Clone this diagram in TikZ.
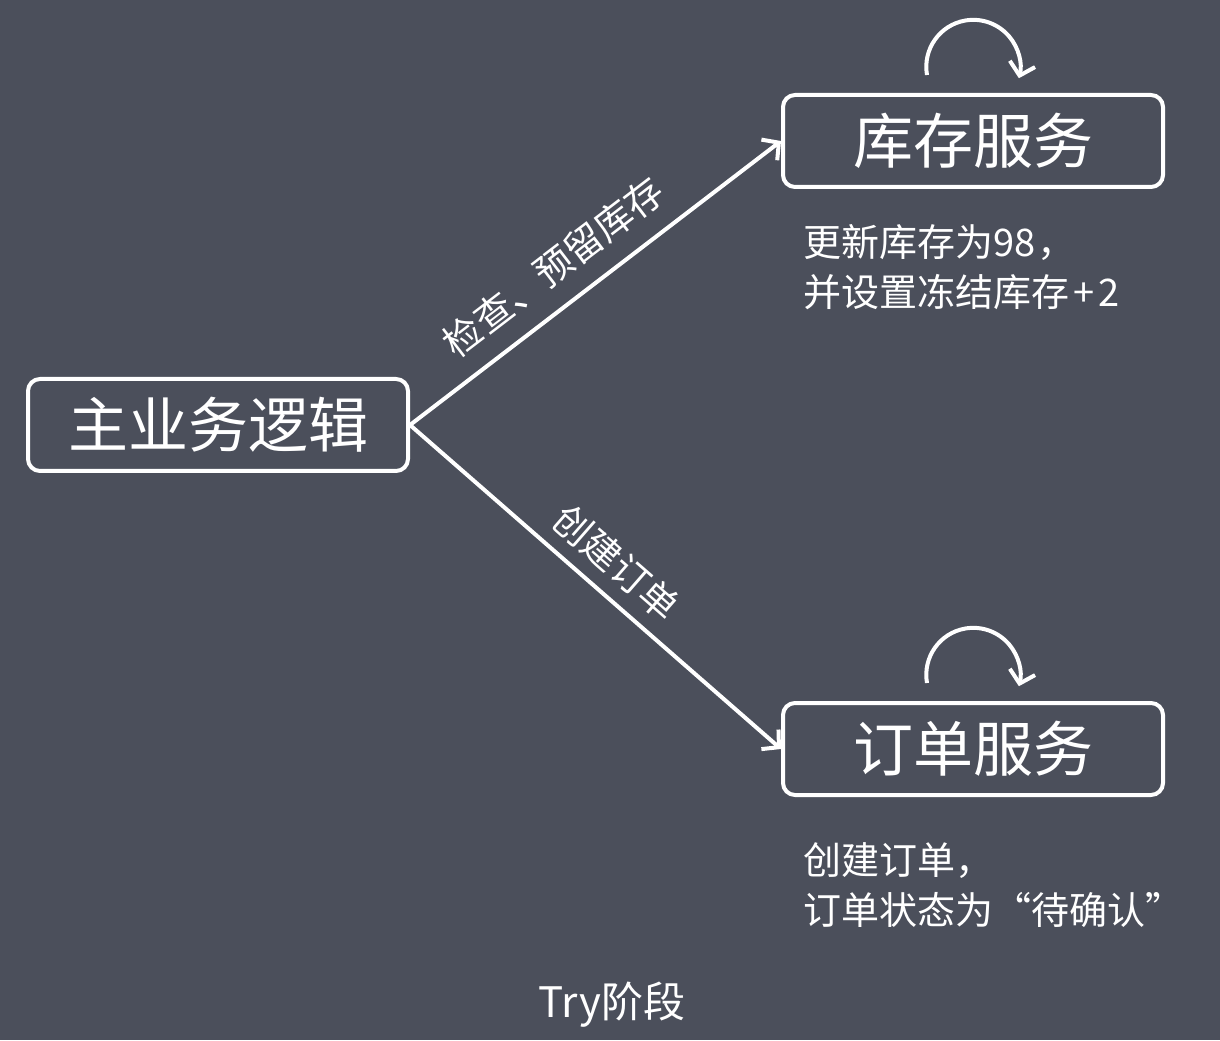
\documentclass[tikz,border=0pt]{standalone}
\usepackage{fontspec}
\setmainfont{Noto Sans CJK SC}
\usetikzlibrary{arrows.meta}
\definecolor{bgslate}{RGB}{75,79,91}
\begin{document}
\begin{tikzpicture}[x=0.5pt,y=0.5pt,
  svcbox/.style={draw=white,line width=2pt,rounded corners=6pt,minimum width=190pt,minimum height=46pt,text=white,font=\fontsize{30}{34}\selectfont},
  flow/.style={draw=white,line width=2pt,-{Straight Barb[length=6pt,width=13pt,line width=2pt]}},
  selfloop/.style={draw=white,line width=2pt,-{Straight Barb[length=6pt,width=13pt,line width=2pt]}},
  edgelabel/.style={text=white,font=\fontsize{19}{22}\selectfont},
  note/.style={text=white,align=left,anchor=north west,inner sep=0pt,font=\fontsize{19}{25}\selectfont}]
  \fill[bgslate] (0,0) rectangle (1220,1040);
  \useasboundingbox (0,0) rectangle (1220,1040);
  \node[svcbox] (main) at (218,615) {主业务逻辑};
  \node[svcbox] (stock) at (973,899) {库存服务};
  \node[svcbox] (order) at (973,291) {订单服务};
  \draw[flow] (main.east) -- node[edgelabel,sloped,above=6pt,pos=0.45] {检查、预留库存} (stock.west);
  \draw[flow] (main.east) -- node[edgelabel,sloped,above=3pt,pos=0.5] {创建订单} (order.west);
  \draw[selfloop] ([xshift=-23pt,yshift=9pt]stock.north) arc[start angle=190,end angle=-14,radius=23.5pt];
  \draw[selfloop] ([xshift=-23pt,yshift=9pt]order.north) arc[start angle=190,end angle=-14,radius=23.5pt];
  \node[note] (stocknote) at (803,816) {更新库存为98\kern1pt，\\并设置冻结库存\kern2pt+\kern2pt2};
  \node[note] (ordernote) at (803,198) {创建订单，\\订单状态为“待确认”};
  \node[text=white,font=\fontsize{21}{24}\selectfont] (phase) at (612,35) {Try阶段};
\end{tikzpicture}
\end{document}
